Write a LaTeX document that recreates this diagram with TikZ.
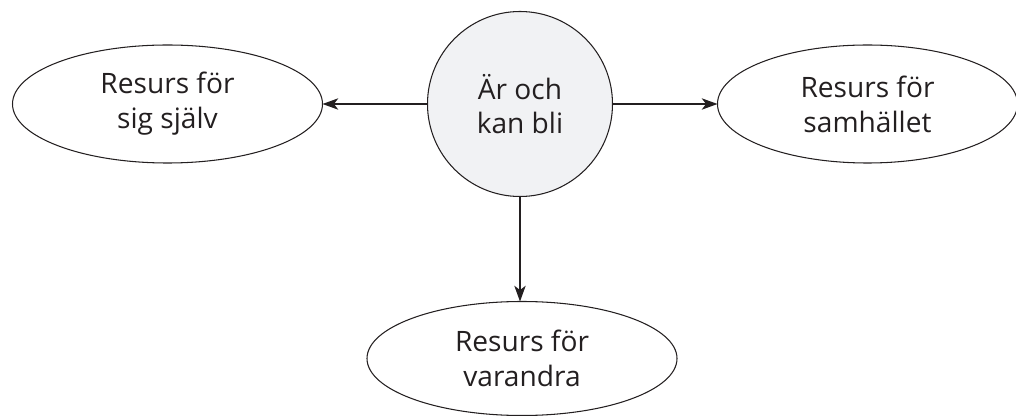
\documentclass[tikz,border=0pt]{standalone}
\usepackage{fontspec}
\setmainfont{Open Sans}
\usetikzlibrary{shapes.geometric,arrows.meta,positioning}
\definecolor{hubfill}{RGB}{241,242,244}
\definecolor{inkgray}{RGB}{35,31,32}

\begin{document}
\begin{tikzpicture}[%
    >={Stealth[length=9pt,width=6.5pt,inset=2.5pt]}, % Filled arrows
    node distance=2.1cm,         % Same gap round the hub
    line width=0.6pt,
    ]
% -------------------------------------------------
% Box styles
\tikzset{
  base/.style={draw=inkgray, text=inkgray, align=center, inner sep=0pt,
    outer sep=0pt, font={\fontsize{16}{19.8}\selectfont}},
  hub/.style={base, circle, fill=hubfill, minimum size=3.7cm},
  res/.style={base, ellipse, minimum width=6.2cm, minimum height=2.36cm},
  % Connector line style
  norm/.style={->, draw=inkgray},
}
\useasboundingbox (0,0) rectangle (20.32,-8.32);
% -------------------------------------------------
% The hub first, the rest placed round it
\node [hub] (hub) at (10.40,-2.08) {Är och\\kan bli};
\node [res, left = of hub] (self) {Resurs för\\sig själv};
\node [res, right = of hub, minimum width=6.0cm] (society) {Resurs för\\samhället};
\node [res, below = of hub, minimum height=2.28cm, xshift=0.04cm] (others) {Resurs för\\varandra};

\draw[norm] (hub) -- (self);	%hub,left
\draw[norm] (hub) -- (society);	%hub,right
\draw[norm] (hub.south) -- (hub.south |- others.north);	%hub,below

% -------------------------------------------------
\end{tikzpicture}
\end{document}
